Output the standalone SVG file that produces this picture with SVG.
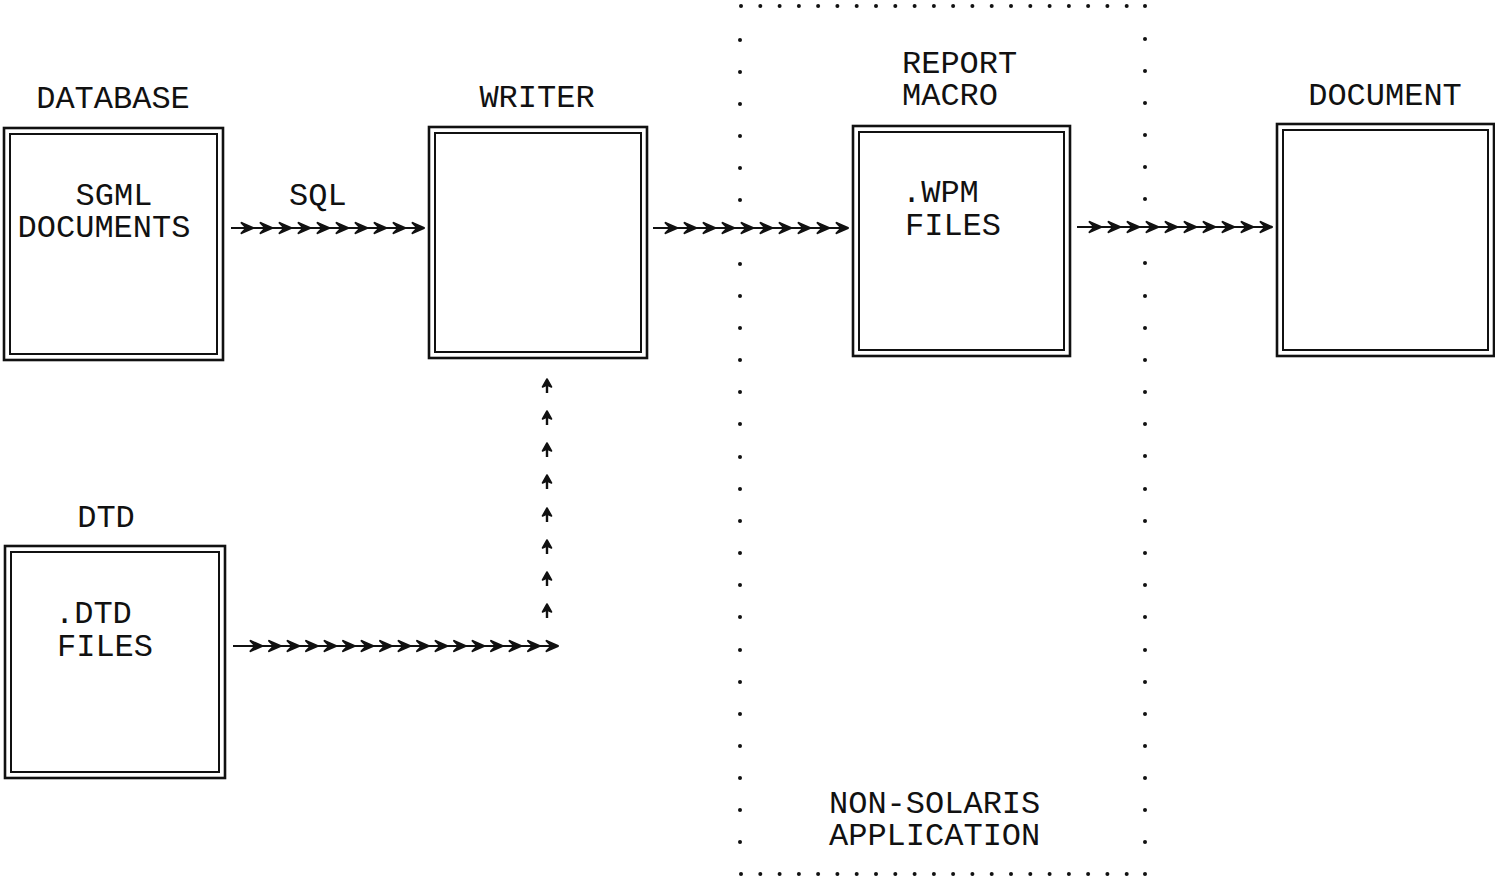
<svg xmlns="http://www.w3.org/2000/svg" xmlns:xlink="http://www.w3.org/1999/xlink" width="1495" height="881" viewBox="0 0 1495 881">
<style>
text{font-family:"Liberation Mono","Courier New",monospace;font-size:32px;fill:#111}
.o{fill:none;stroke:#111;stroke-width:2.6}
.i{fill:none;stroke:#111;stroke-width:2}
.ln{stroke:#111;stroke-width:2;fill:none}
.c{text-anchor:middle}
</style>
<defs>
<path id="chev" d="M0,0 L-11.5,-5.2 L-6.5,0 L-11.5,5.2 Z" fill="#111" stroke="#111" stroke-width="2" stroke-linejoin="round"/>
<g id="upa"><path d="M0,0 L-4.5,8 L0,6 L4.5,8 Z" fill="#111" stroke="#111" stroke-width="1.6" stroke-linejoin="round"/><line x1="0" y1="4" x2="0" y2="14" stroke="#111" stroke-width="2.4"/></g>
<circle id="dot" r="2" fill="#111"/>
</defs>
<rect width="1495" height="881" fill="#fff"/>

<g id="database">
<rect class="o" x="4" y="128" width="219" height="232"/>
<rect class="i" x="10" y="134" width="207" height="220"/>
<text class="c" x="113" y="108">DATABASE</text>
<text class="c" x="114" y="205">SGML</text>
<text class="c" x="104" y="237">DOCUMENTS</text>
</g>

<g id="writer">
<rect class="o" x="429" y="127" width="218" height="231"/>
<rect class="i" x="435" y="133" width="206" height="219"/>
<text class="c" x="537" y="107">WRITER</text>
</g>

<g id="report">
<rect class="o" x="853" y="126" width="217" height="230"/>
<rect class="i" x="859" y="132" width="205" height="218"/>
<text x="902" y="73">REPORT</text>
<text x="902" y="105">MACRO</text>
<text x="902" y="202">.WPM</text>
<text x="905" y="235">FILES</text>
</g>

<g id="document">
<rect class="o" x="1277" y="124" width="217" height="232"/>
<rect class="i" x="1283" y="130" width="205" height="220"/>
<text class="c" x="1385" y="105">DOCUMENT</text>
</g>

<g id="dtd">
<rect class="o" x="5" y="546" width="220" height="232"/>
<rect class="i" x="11" y="552" width="208" height="220"/>
<text class="c" x="106" y="527">DTD</text>
<text x="55" y="623">.DTD</text>
<text x="57" y="656">FILES</text>
</g>

<g id="non-solaris">
<g id="dots-top">
<use xlink:href="#dot" x="741" y="6"/><use xlink:href="#dot" x="760.3" y="6"/><use xlink:href="#dot" x="779.6" y="6"/><use xlink:href="#dot" x="798.9" y="6"/><use xlink:href="#dot" x="818.1" y="6"/><use xlink:href="#dot" x="837.4" y="6"/><use xlink:href="#dot" x="856.7" y="6"/><use xlink:href="#dot" x="876" y="6"/><use xlink:href="#dot" x="895.3" y="6"/><use xlink:href="#dot" x="914.6" y="6"/><use xlink:href="#dot" x="933.9" y="6"/><use xlink:href="#dot" x="953.1" y="6"/><use xlink:href="#dot" x="972.4" y="6"/><use xlink:href="#dot" x="991.7" y="6"/><use xlink:href="#dot" x="1011" y="6"/><use xlink:href="#dot" x="1030.3" y="6"/><use xlink:href="#dot" x="1049.6" y="6"/><use xlink:href="#dot" x="1068.9" y="6"/><use xlink:href="#dot" x="1088.1" y="6"/><use xlink:href="#dot" x="1107.4" y="6"/><use xlink:href="#dot" x="1126.7" y="6"/><use xlink:href="#dot" x="1145" y="6"/>
</g>
<g id="dots-bottom">
<use xlink:href="#dot" x="741" y="874"/><use xlink:href="#dot" x="760.3" y="874"/><use xlink:href="#dot" x="779.6" y="874"/><use xlink:href="#dot" x="798.9" y="874"/><use xlink:href="#dot" x="818.1" y="874"/><use xlink:href="#dot" x="837.4" y="874"/><use xlink:href="#dot" x="856.7" y="874"/><use xlink:href="#dot" x="876" y="874"/><use xlink:href="#dot" x="895.3" y="874"/><use xlink:href="#dot" x="914.6" y="874"/><use xlink:href="#dot" x="933.9" y="874"/><use xlink:href="#dot" x="953.1" y="874"/><use xlink:href="#dot" x="972.4" y="874"/><use xlink:href="#dot" x="991.7" y="874"/><use xlink:href="#dot" x="1011" y="874"/><use xlink:href="#dot" x="1030.3" y="874"/><use xlink:href="#dot" x="1049.6" y="874"/><use xlink:href="#dot" x="1068.9" y="874"/><use xlink:href="#dot" x="1088.1" y="874"/><use xlink:href="#dot" x="1107.4" y="874"/><use xlink:href="#dot" x="1126.7" y="874"/><use xlink:href="#dot" x="1145" y="874"/>
</g>
<g id="dots-left">
<use xlink:href="#dot" x="740" y="40"/><use xlink:href="#dot" x="740" y="72"/><use xlink:href="#dot" x="740" y="104"/><use xlink:href="#dot" x="740" y="136"/><use xlink:href="#dot" x="740" y="168"/><use xlink:href="#dot" x="740" y="200"/><use xlink:href="#dot" x="740" y="264"/><use xlink:href="#dot" x="740" y="296"/><use xlink:href="#dot" x="740" y="328"/><use xlink:href="#dot" x="740" y="360"/><use xlink:href="#dot" x="740" y="392"/><use xlink:href="#dot" x="740" y="424"/><use xlink:href="#dot" x="740" y="457"/><use xlink:href="#dot" x="740" y="489"/><use xlink:href="#dot" x="740" y="521"/><use xlink:href="#dot" x="740" y="553"/><use xlink:href="#dot" x="740" y="585"/><use xlink:href="#dot" x="740" y="617"/><use xlink:href="#dot" x="740" y="650"/><use xlink:href="#dot" x="740" y="682"/><use xlink:href="#dot" x="740" y="714"/><use xlink:href="#dot" x="740" y="746"/><use xlink:href="#dot" x="740" y="778"/><use xlink:href="#dot" x="740" y="810"/><use xlink:href="#dot" x="740" y="842"/>
</g>
<g id="dots-right">
<use xlink:href="#dot" x="1145" y="39"/><use xlink:href="#dot" x="1145" y="71"/><use xlink:href="#dot" x="1145" y="103"/><use xlink:href="#dot" x="1145" y="135"/><use xlink:href="#dot" x="1145" y="167"/><use xlink:href="#dot" x="1145" y="199"/><use xlink:href="#dot" x="1145" y="263"/><use xlink:href="#dot" x="1145" y="296"/><use xlink:href="#dot" x="1145" y="328"/><use xlink:href="#dot" x="1145" y="360"/><use xlink:href="#dot" x="1145" y="392"/><use xlink:href="#dot" x="1145" y="424"/><use xlink:href="#dot" x="1145" y="456"/><use xlink:href="#dot" x="1145" y="489"/><use xlink:href="#dot" x="1145" y="521"/><use xlink:href="#dot" x="1145" y="553"/><use xlink:href="#dot" x="1145" y="585"/><use xlink:href="#dot" x="1145" y="617"/><use xlink:href="#dot" x="1145" y="650"/><use xlink:href="#dot" x="1145" y="682"/><use xlink:href="#dot" x="1145" y="714"/><use xlink:href="#dot" x="1145" y="746"/><use xlink:href="#dot" x="1145" y="778"/><use xlink:href="#dot" x="1145" y="810"/><use xlink:href="#dot" x="1145" y="842"/>
</g>
<text x="829" y="813">NON-SOLARIS</text>
<text x="829" y="845">APPLICATION</text>
</g>

<g id="connectors">
<g id="sql-arrow">
<text x="289" y="205">SQL</text>
<line class="ln" x1="231" y1="228" x2="422" y2="228"/>
<use xlink:href="#chev" x="253" y="228"/><use xlink:href="#chev" x="272" y="228"/><use xlink:href="#chev" x="291" y="228"/><use xlink:href="#chev" x="310" y="228"/><use xlink:href="#chev" x="329" y="228"/><use xlink:href="#chev" x="348" y="228"/><use xlink:href="#chev" x="367" y="228"/><use xlink:href="#chev" x="386" y="228"/><use xlink:href="#chev" x="405" y="228"/><use xlink:href="#chev" x="424" y="228"/>
</g>
<g id="writer-report">
<line class="ln" x1="653" y1="228" x2="846" y2="228"/>
<use xlink:href="#chev" x="677" y="228"/><use xlink:href="#chev" x="696" y="228"/><use xlink:href="#chev" x="715" y="228"/><use xlink:href="#chev" x="734" y="228"/><use xlink:href="#chev" x="753" y="228"/><use xlink:href="#chev" x="772" y="228"/><use xlink:href="#chev" x="791" y="228"/><use xlink:href="#chev" x="810" y="228"/><use xlink:href="#chev" x="829" y="228"/><use xlink:href="#chev" x="848" y="228"/>
</g>
<g id="report-document">
<line class="ln" x1="1077" y1="227" x2="1270" y2="227"/>
<use xlink:href="#chev" x="1101" y="227"/><use xlink:href="#chev" x="1120" y="227"/><use xlink:href="#chev" x="1139" y="227"/><use xlink:href="#chev" x="1158" y="227"/><use xlink:href="#chev" x="1177" y="227"/><use xlink:href="#chev" x="1196" y="227"/><use xlink:href="#chev" x="1215" y="227"/><use xlink:href="#chev" x="1234" y="227"/><use xlink:href="#chev" x="1253" y="227"/><use xlink:href="#chev" x="1272" y="227"/>
</g>
<g id="dtd-writer">
<line class="ln" x1="233" y1="646" x2="556" y2="646"/>
<use xlink:href="#chev" x="262" y="646"/><use xlink:href="#chev" x="280.5" y="646"/><use xlink:href="#chev" x="299" y="646"/><use xlink:href="#chev" x="317.5" y="646"/><use xlink:href="#chev" x="336" y="646"/><use xlink:href="#chev" x="354.5" y="646"/><use xlink:href="#chev" x="373" y="646"/><use xlink:href="#chev" x="391.5" y="646"/><use xlink:href="#chev" x="410" y="646"/><use xlink:href="#chev" x="428.5" y="646"/><use xlink:href="#chev" x="447" y="646"/><use xlink:href="#chev" x="465.5" y="646"/><use xlink:href="#chev" x="484" y="646"/><use xlink:href="#chev" x="502.5" y="646"/><use xlink:href="#chev" x="521" y="646"/><use xlink:href="#chev" x="539.5" y="646"/><use xlink:href="#chev" x="558" y="646"/>
<use xlink:href="#upa" x="547" y="379"/><use xlink:href="#upa" x="547" y="411"/><use xlink:href="#upa" x="547" y="443"/><use xlink:href="#upa" x="547" y="475"/><use xlink:href="#upa" x="547" y="508"/><use xlink:href="#upa" x="547" y="540"/><use xlink:href="#upa" x="547" y="572"/><use xlink:href="#upa" x="547" y="604"/>
</g>
</g>
</svg>
